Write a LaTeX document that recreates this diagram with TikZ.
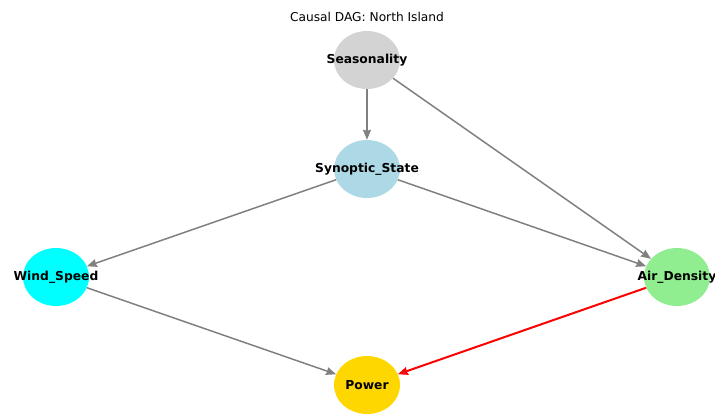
\documentclass[tikz,border=0pt]{standalone}
\usepackage{fontspec}
\setmainfont{DejaVu Sans}
\usetikzlibrary{shapes.geometric,arrows.meta}
\definecolor{cseas}{HTML}{D3D3D3}
\definecolor{csyn}{HTML}{ADD8E6}
\definecolor{cwind}{HTML}{00FFFF}
\definecolor{cair}{HTML}{90EE90}
\definecolor{cpow}{HTML}{FFD700}
\definecolor{cedge}{HTML}{808080}
\tikzset{
  dagnode/.style={ellipse, minimum width=66pt, minimum height=58pt, inner sep=0pt, text width=0pt},
  lab/.style={font=\fontsize{12.3}{14}\selectfont\bfseries},
  dagedge/.style={draw=cedge, line width=1.5pt, -{Stealth[length=10pt,width=8pt,inset=1pt]}},
  redge/.style={draw=red, line width=2pt, -{Stealth[length=10pt,width=8pt,inset=1pt,fill=cedge]}}
}
\begin{document}
\begin{tikzpicture}[x=1pt,y=-1pt]
\useasboundingbox (0,0) rectangle (715,415);
\node[font=\fontsize{12.2}{14}\selectfont] (title) at (367,17) {Causal DAG: North Island};
\node[dagnode, fill=cseas, label={[lab]center:Seasonality}] (seas) at (367,60) {};
\node[dagnode, fill=csyn, label={[lab]center:Synoptic\_State}] (syn) at (367,169) {};
\node[dagnode, fill=cwind, label={[lab]center:Wind\_Speed}] (wind) at (56,277) {};
\node[dagnode, fill=cair, label={[lab]center:Air\_Density}] (air) at (677,277) {};
\node[dagnode, fill=cpow, label={[lab]center:Power}] (pow) at (367,385) {};
\draw[dagedge] (seas) -- (syn);
\draw[dagedge] (seas) -- (air);
\draw[dagedge] (syn) -- (wind);
\draw[dagedge] (syn) -- (air);
\draw[dagedge] (wind) -- (pow);
\draw[redge] (air) -- (pow);
\end{tikzpicture}
\end{document}
